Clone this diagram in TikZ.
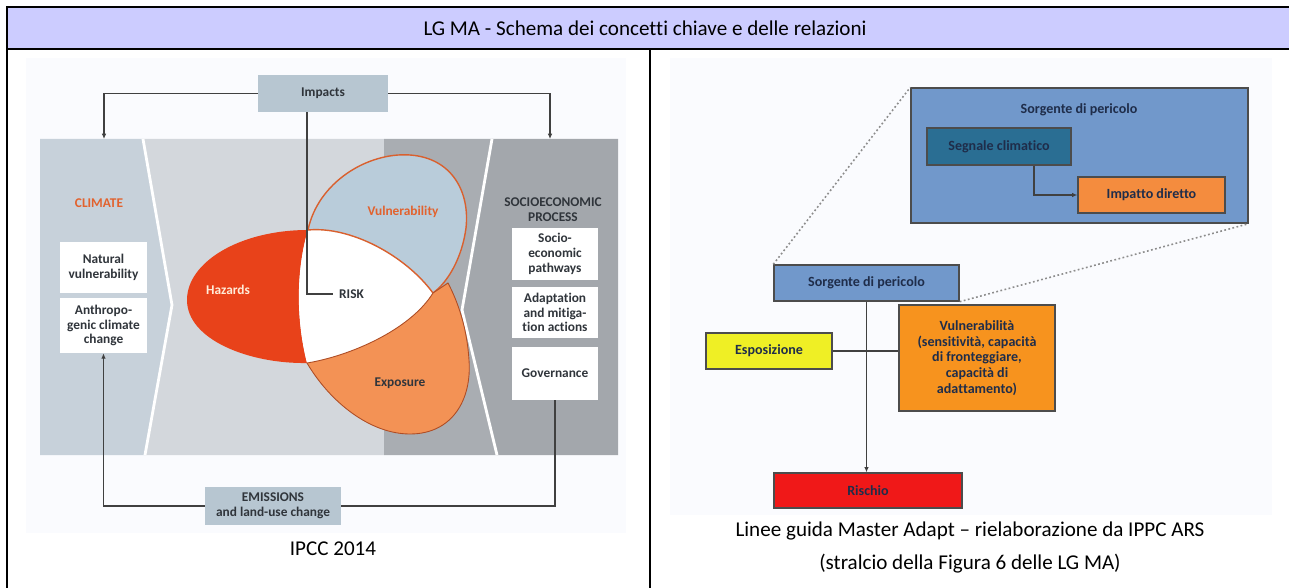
\documentclass[tikz,border=0pt]{standalone}
\usepackage{fontspec}
\setmainfont{Carlito}[Ligatures=NoCommon]
\usetikzlibrary{arrows.meta,positioning,calc}
\tikzset{>=Latex}

\definecolor{hdrfill}{HTML}{CCCCFF}
\definecolor{imgbg}{HTML}{FAFBFE}
\definecolor{climreg}{HTML}{C7D1DA}
\definecolor{midlight}{HTML}{D3D7DC}
\definecolor{middark}{HTML}{A9ADB2}
\definecolor{socreg}{HTML}{A3A7AC}
\definecolor{imbox}{HTML}{B7C6D1}
\definecolor{hazred}{HTML}{E8421A}
\definecolor{vulblue}{HTML}{B9CCDA}
\definecolor{vulline}{HTML}{D9602E}
\definecolor{expor}{HTML}{F39255}
\definecolor{climtxt}{HTML}{E2622E}
\definecolor{ipcctxt}{HTML}{30353B}
\definecolor{sorblue}{HTML}{7198CB}
\definecolor{segteal}{HTML}{2A6E93}
\definecolor{impor}{HTML}{F48C3E}
\definecolor{espyel}{HTML}{EFEF25}
\definecolor{vulor}{HTML}{F7931E}
\definecolor{risred}{HTML}{F01818}
\definecolor{navytxt}{HTML}{1F2D4A}

\begin{document}
\begin{tikzpicture}[x=0.02cm, y=-0.02cm,
  cellline/.style={line width=1pt, black},
  captxt/.style={font=\fontsize{12}{14}\selectfont, text=black},
  ipccbox/.style={rectangle, fill=white, align=center, inner sep=1pt,
    font=\fontsize{7.6}{8.4}\selectfont\bfseries, text=ipcctxt},
  greybox/.style={rectangle, fill=imbox, align=center, inner sep=1pt,
    font=\fontsize{7.6}{8.4}\selectfont\bfseries, text=ipcctxt},
  blobtxt/.style={font=\fontsize{7.6}{8.4}\selectfont\bfseries, align=center},
  conn/.style={draw=black!75, line width=0.6pt},
  connarrow/.style={conn, -{Latex[length=3pt,width=2.6pt]}},
  mabox/.style={rectangle, draw=black!70, line width=0.8pt, align=center,
    inner sep=1pt, font=\fontsize{8}{9}\selectfont\bfseries, text=navytxt},
  zoomline/.style={draw=black!45, line width=0.9pt, dash pattern=on 1pt off 1.4pt}
]
\useasboundingbox (0,0) rectangle (1289,588);

% ---------- Table ----------
\fill[hdrfill] (7,7) rectangle (1295,49);
\draw[cellline] (7,600) -- (7,7) -- (1295,7);
\draw[cellline] (7,49) -- (1295,49);
\draw[cellline] (650,49) -- (650,600);
\node[captxt] (title) at (645,28) {LG MA - Schema dei concetti chiave e delle relazioni};

% ---------- Picture backgrounds ----------
\fill[imgbg] (26,58) rectangle (626,533);
\fill[imgbg] (670,58) rectangle (1272,515);

% ---------- IPCC panel ----------
\fill[climreg] (40,139) -- (143,139) -- (172,305) -- (145,455) -- (40,455) -- cycle;
\fill[midlight] (143,139) -- (384,139) -- (384,455) -- (145,455) -- (172,305) -- cycle;
\fill[middark] (384,139) -- (492,139) -- (462,310) -- (497,455) -- (384,455) -- cycle;
\fill[socreg] (492,139) -- (618,139) -- (618,455) -- (497,455) -- (462,310) -- cycle;
\draw[white, line width=1.6pt] (143,139) -- (172,305) -- (145,455);
\draw[white, line width=1.6pt] (492,139) -- (462,310) -- (497,455);

% hazard, risk, vulnerability, exposure
\fill[hazred] (308,230) .. controls (240,230) and (187,262) .. (187,300)
  .. controls (187,340) and (250,364) .. (307,363)
  .. controls (296,320) and (296,270) .. (308,230) -- cycle;
\fill[white] (308,230) .. controls (350,226) and (405,255) .. (433,293)
  .. controls (410,330) and (350,356) .. (307,363)
  .. controls (296,320) and (296,270) .. (308,230) -- cycle;
\filldraw[fill=vulblue, draw=vulline, line width=0.8pt]
  (308,230) .. controls (318,182) and (368,152) .. (410,155)
  .. controls (452,158) and (470,192) .. (466,228)
  .. controls (462,258) and (448,282) .. (433,293)
  .. controls (405,255) and (350,226) .. (308,230) -- cycle;
\filldraw[fill=expor, draw=vulline!80!black, line width=0.5pt]
  (307,363) .. controls (330,402) and (370,434) .. (410,434)
  .. controls (452,434) and (472,400) .. (469,360)
  .. controls (467,328) and (458,302) .. (448,283)
  -- (433,293)
  .. controls (410,330) and (350,356) .. (307,363) -- cycle;

% ---------- IPCC labels ----------
\node[blobtxt, text=climtxt] (climate) at (99,203) {CLIMATE};
\node[ipccbox, minimum width=1.74cm, minimum height=1.02cm] (natural) at (103.5,267.5)
  {Natural\\vulnerability};
\node[ipccbox, minimum width=1.74cm, minimum height=1.1cm] (anthro) at (103.5,325.5)
  {Anthropo-\\genic climate\\change};
\node[blobtxt, text=orange!15] (hazards) at (228,290) {Hazards};
\node[blobtxt, text=climtxt] (vulner) at (403,212) {Vulnerability};
\node[blobtxt, text=ipcctxt, anchor=west] (risk) at (333,294) {RISK};
\node[blobtxt, text=ipcctxt] (exposure) at (400,383) {Exposure};
\node[blobtxt, text=ipcctxt] (socio) at (553,210) {SOCIOECONOMIC\\PROCESS};
\node[ipccbox, minimum width=1.72cm, minimum height=1.04cm] (pathways) at (555,254)
  {Socio-\\economic\\pathways};
\node[ipccbox, minimum width=1.72cm, minimum height=1.02cm] (adapt) at (555,312.5)
  {Adaptation\\and mitiga-\\tion actions};
\node[ipccbox, minimum width=1.72cm, minimum height=1.06cm] (gov) at (555,373.5)
  {Governance};
\node[greybox, minimum width=2.6cm, minimum height=0.74cm] (impacts) at (323,93.5)
  {Impacts};
\node[greybox, minimum width=2.72cm, minimum height=0.76cm] (emis) at (273,506)
  {EMISSIONS\\and land-use change};
\coordinate (climtop) at (104,139);
\coordinate (sociotop) at (550,139);

% ---------- IPCC arrows ----------
\draw[connarrow] (impacts.west) -| (climtop);
\draw[connarrow] (impacts.east) -| (sociotop);
\draw[conn] ($(impacts.south)+(-16,0)$) |- (risk.west);
\draw[connarrow] (emis.west) -| (anthro.south);
\draw[conn] (emis.east) -| (gov.south);

% ---------- Master Adapt scheme ----------
\node[mabox, fill=sorblue, minimum width=6.74cm, minimum height=2.7cm] (bigsorg) at (1079.5,155.5) {};
\node[font=\fontsize{8}{9}\selectfont\bfseries, text=navytxt] (bigtitle) at (1079,110)
  {Sorgente di pericolo};
\node[mabox, fill=segteal, minimum width=2.88cm, minimum height=0.74cm] (segnale) at (999,146.5)
  {Segnale climatico};
\node[mabox, fill=impor, minimum width=2.94cm, minimum height=0.72cm] (impatto) at (1151.5,195)
  {Impatto diretto};
\node[mabox, fill=sorblue, minimum width=3.7cm, minimum height=0.72cm] (sorg) at (866.5,283)
  {Sorgente di pericolo};
\node[mabox, fill=espyel, minimum width=2.52cm, minimum height=0.72cm] (espo) at (769,351)
  {Esposizione};
\node[mabox, fill=vulor, minimum width=3.12cm, minimum height=2.12cm] (vulne) at (977,358)
  {Vulnerabilità\\(sensitività, capacità\\di fronteggiare,\\capacità di\\adattamento)};
\node[mabox, fill=risred, minimum width=3.76cm, minimum height=0.7cm] (rischio) at (868,490.5)
  {Rischio};

\draw[zoomline] (sorg.north west) -- (bigsorg.north west);
\draw[zoomline] (sorg.south east) -- (bigsorg.south east);
\draw[connarrow] ($(segnale.south)+(35,0)$) |- (impatto.west);
\draw[connarrow] (sorg.south) -- (sorg.south |- rischio.north);
\draw[conn] (espo.east) -- (espo.east -| vulne.west);

% ---------- Captions ----------
\node[captxt] (capleft) at (333,549) {IPCC 2014};
\node[captxt] (capright1) at (970,531) {Linee guida Master Adapt -- rielaborazione da IPPC ARS};
\node[captxt] (capright2) at (970,564) {(stralcio della Figura 6 delle LG MA)};

\end{tikzpicture}
\end{document}
